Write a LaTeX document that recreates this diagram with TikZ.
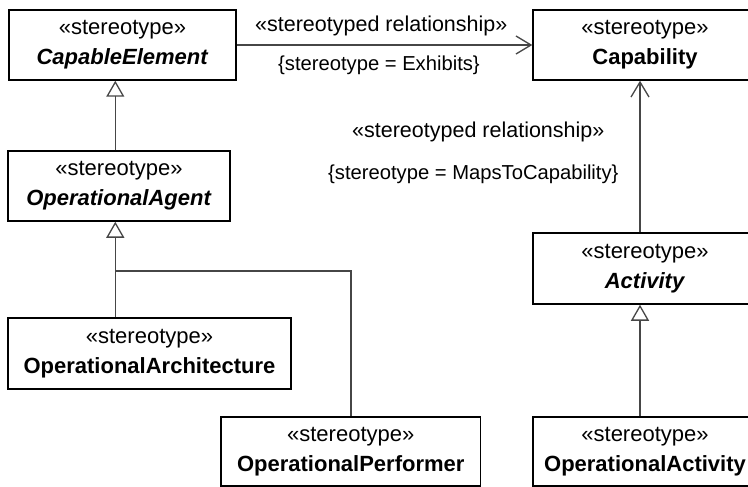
\documentclass[tikz,border=0pt]{standalone}
\usepackage{fontspec}
\setmainfont{Liberation Sans}
\usetikzlibrary{arrows.meta}
\definecolor{linec}{RGB}{70,70,70}
\begin{document}
\begin{tikzpicture}[x=1pt,y=-1pt,
  umlbox/.style={draw=black, line width=1.5pt, fill=white, align=center, inner sep=0pt, font=\fontsize{22}{30}\selectfont},
  conn/.style={draw=linec, line width=1.3pt},
  gen/.style={conn, -{Triangle[open, length=16pt, width=18pt]}},
  dep/.style={conn, -{Straight Barb[length=15pt, width=18pt]}},
  rellabel/.style={inner sep=0pt, anchor=base west, font=\fontsize{21.5}{26}\selectfont},
  taglabel/.style={inner sep=0pt, anchor=base west, font=\fontsize{20.2}{24}\selectfont}]
\useasboundingbox (0,0) rectangle (748,487);
\clip (0,0) rectangle (748,487);
\fill[white] (0,0) rectangle (748,487);

% boxes
\node[umlbox, minimum width=227pt, minimum height=70pt] (ce) at (122.5,45) {«stereotype»\\\textbf{\textit{CapableElement}}};
\node[umlbox, minimum width=222pt, minimum height=70pt] (oa) at (119,186) {«stereotype»\\\textbf{\textit{OperationalAgent}}};
\node[umlbox, minimum width=283pt, minimum height=71pt] (oarch) at (149.5,353.5) {«stereotype»\\\textbf{OperationalArchitecture}};
\node[umlbox, minimum width=259.5pt, minimum height=69pt] (operf) at (350.75,451.5) {«stereotype»\\\textbf{OperationalPerformer}};
\node[umlbox, minimum width=224pt, minimum height=70pt] (cap) at (645,45) {«stereotype»\\\textbf{Capability}};
\node[umlbox, minimum width=224pt, minimum height=71pt] (act) at (645,268.5) {«stereotype»\\\textbf{\textit{Activity}}};
\node[umlbox, minimum width=224pt, minimum height=69pt] (opact) at (645,451.5) {«stereotype»\\\textbf{OperationalActivity}};

% helper coordinates
\coordinate (gx) at (115.3,0);
\coordinate (junc) at (115.3,271);
\coordinate (pr) at (351,271);
\coordinate (ax) at (640,0);

% generalizations (left)
\draw[gen] (oa.north -| gx) -- (ce.south -| gx);
\draw[gen] (junc) -- (oa.south -| gx);
\draw[conn] (oarch.north -| gx) -- (junc) -- (pr) -- (operf.north -| pr);

% right column
\draw[gen] (opact.north -| ax) -- (act.south -| ax);
\draw[dep] (act.north -| ax) -- (cap.south -| ax);
\draw[dep] (ce.east) -- (cap.west);

% labels
\node[rellabel] (r1) at (255,32) {«stereotyped relationship»};
\node[taglabel] (t1) at (278,71) {\{stereotype = Exhibits\}};
\node[rellabel] (r2) at (352,138) {«stereotyped relationship»};
\node[taglabel] (t2) at (328,179) {\{stereotype = MapsToCapability\}};
\end{tikzpicture}
\end{document}
